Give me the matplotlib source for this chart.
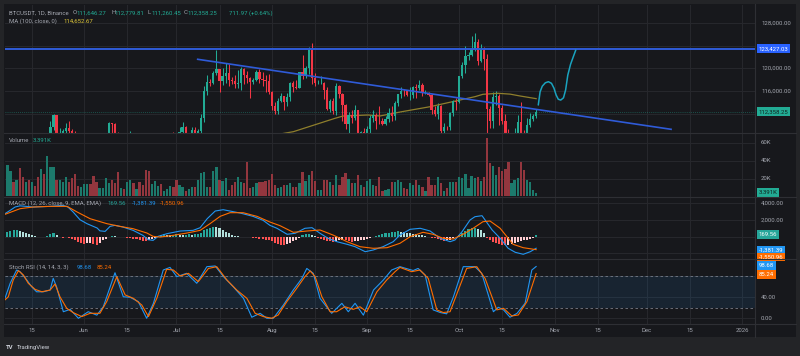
import numpy as np
import pandas as pd
import matplotlib
matplotlib.use('Agg')
import matplotlib.pyplot as plt
import matplotlib.dates as mdates
from matplotlib.lines import Line2D

plt.rcParams['font.family'] = ['Roboto', 'DejaVu Sans']

# ---------------- data ----------------
start_date = '2025-05-06'
opens = [94748, 96802, 97032, 103241, 102971, 104696, 104106, 102812, 104169, 103539, 103744, 103489, 103126, 106455, 105606, 106791, 109643, 111696, 107287, 107791, 109035, 109440, 108994, 107802, 105641, 103998,
         104638, 105652, 105882, 105432, 104697, 101508, 104288, 105615, 105793, 110294, 110257, 108686, 105929, 106090, 105472, 105552, 106794, 104551, 104886, 104658, 103297, 102120, 100963, 105333, 106083, 107340, 106947, 107047, 107296, 108356,
         107135, 105681, 108849, 109584, 107985, 108222, 109203, 108263, 108922, 111234, 115987, 117516, 117435, 119087, 119841, 117758, 118631, 119177, 117925, 117840, 117265, 117380, 119954, 118755, 118340, 117614, 117919, 119415, 118062, 117922, 117832,
         115764, 113297, 112546, 114208, 115055, 114129, 114992, 117472, 116675, 116462, 119294, 118686, 120134, 123306, 118295, 117342, 117380, 117405, 116227, 112872, 114271, 112500, 116935, 115438, 113493, 110111, 111764, 111262, 112567, 108377, 108816,
         108246, 109237, 111240, 111705, 110730, 110659, 110187, 111137, 112065, 111546, 113960, 115482, 116030, 115919, 115268, 115349, 116788, 116447, 117073, 115632, 115685, 115232, 112650, 111998, 113307, 108994, 109643, 109635, 112163, 114311,
         114048, 118595, 120530, 122232, 122391, 123482, 124658, 121332, 123306, 121662, 112774, 110644, 114958, 115166, 113029, 110763, 108195, 106432, 107185, 108642, 110532, 108297, 107567, 110078, 111033, 111646.27]
highs = [96889, 97732, 103971, 104324, 104984, 104937, 105819, 104976, 104324, 104150, 104550, 103717, 106660, 107108, 107320, 110797, 111980, 111800, 109454, 109300, 110422, 110718, 109313, 108910, 106300, 104886,
         105900, 105950, 106800, 105999, 105900, 105500, 105900, 106488, 110530, 110400, 110392, 108800, 106182, 106200, 106128, 108952, 107771, 105550, 105226, 106524, 104000, 103100, 106074, 106290, 108135, 108272, 107735, 107600, 108528, 108789,
         107540, 109730, 110529, 109767, 108420, 109700, 109700, 109216, 111999, 116868, 118869, 118200, 119488, 123218, 119940, 120063, 120998, 120820, 118499, 118856, 119676, 120247, 120090, 119535, 118451, 118300, 119766, 119800, 119273, 118792, 118922,
         116052, 114036, 114700, 115720, 115127, 115720, 117630, 117700, 117900, 119311, 122335, 120324, 123667, 124474, 119216, 117999, 118575, 117543, 116725, 114616, 114821, 117429, 117000, 115666, 113644, 112383, 112625, 113485, 112651, 108956, 109480,
         109912, 111771, 112578, 112206, 113384, 111307, 111600, 112924, 113293, 114313, 115488, 116665, 116308, 116165, 116781, 116964, 117286, 117900, 117459, 116124, 115873, 115400, 113288, 113940, 113510, 110300, 109766, 112350, 114400, 114792,
         118649, 121022, 123894, 122800, 125708, 126199, 125126, 124197, 123762, 122550, 113322, 115770, 115963, 115409, 113612, 111982, 109240, 107499, 109450, 111705, 114000, 109136, 111293, 112100, 111943, 112779.81]
lows = [93377, 95800, 96910, 102315, 102818, 103337, 100718, 101429, 102600, 101383, 103100, 102612, 102400, 102000, 104190, 106107, 109177, 106800, 106900, 106600, 108670, 107522, 106681, 105322, 103700, 103068,
        103700, 103700, 104900, 104200, 100372, 101100, 103900, 104965, 105318, 108345, 108500, 105671, 102664, 104300, 104494, 104979, 103371, 103500, 103900, 102345, 100837, 98200, 99613, 104622, 105808, 106591, 106356, 106805, 107209, 106733,
        105250, 105100, 108530, 107245, 107800, 107800, 107513, 107429, 108324, 110500, 115222, 116900, 117224, 118905, 115736, 117017, 117453, 116812, 117277, 116467, 116515, 116128, 117301, 117401, 114723, 117161, 117825, 117427, 116950, 115796, 115500,
        112722, 112000, 111920, 114110, 112650, 113354, 114259, 115878, 116300, 116460, 118050, 118207, 118920, 117180, 116803, 117172, 117172, 114640, 112732, 112380, 112015, 111684, 114723, 110680, 109274, 108666, 110345, 110861, 107463, 107350, 108076,
        107255, 108393, 110500, 109329, 110206, 110016, 110000, 110621, 110766, 110917, 113430, 114783, 115169, 115134, 114384, 114737, 114720, 116092, 115100, 115417, 115188, 112000, 111512, 111064, 108631, 108620, 109041, 109200, 111560, 112656,
        113971, 118283, 119249, 121526, 122100, 123084, 120574, 121066, 119651, 102000, 109561, 109565, 113616, 110023, 110164, 107427, 103528, 106322, 106103, 107402, 107473, 106666, 107500, 109700, 110681, 111260.45]
closes = opens[1:] + [112358.25]

# volume (thousands of BTC)
volume_k = [17.6, 35.6, 28.4, 16.5, 18.4, 31.8, 22.1, 16.5, 18.4, 16.5, 11.6, 22.1, 30.7, 24.7, 45.7, 32.6, 32.6, 18.4, 18.4, 16.5,
            22.1, 16.5, 20.2, 24.7, 11.6, 10.9, 13.8, 13.8, 13.8, 23.2, 16.5, 9.0, 9.0, 20.2, 14.6, 18.4, 14.6, 26.9, 9.7, 7.9,
            16.5, 18.4, 14.6, 7.9, 16.5, 12.7, 29.6, 28.4, 13.8, 17.6, 11.6, 13.8, 5.4, 7.9, 11.6, 10.9, 18.4, 12.7, 10.9, 5.4,
            7.9, 10.9, 10.1, 18.4, 25.8, 26.9, 10.1, 10.9, 28.4, 32.6,
            18.4, 17.6, 20.2, 7.2, 12.7, 16.5, 21.4, 16.5, 15.4, 38.9, 9.0, 10.9, 15.4, 16.5, 16.5, 17.6, 18.4, 25.1, 12.7, 9.0,
            10.9, 12.7, 12.7, 14.6, 10.9, 10.9, 14.6, 27.7, 17.6, 23.9, 28.4, 17.2, 7.2, 7.2, 18.4, 18.4, 16.5, 12.7, 23.9, 12.7,
            22.1, 25.8, 19.1, 14.6, 14.6, 23.9, 12.7, 10.9, 17.6, 19.1, 12.7, 11.6, 22.1, 5.4, 7.2, 7.9, 16.5, 16.5, 18.4,
            16.5, 9.0, 7.9, 14.6, 12.7, 18.4, 12.7, 10.1, 6.0, 22.1, 12.7, 12.7, 22.1, 14.6, 6.0, 9.0, 16.5, 16.5, 16.5, 22.1,
            20.2, 25.1, 9.0, 22.9, 21.0, 22.1, 17.6, 22.1,
            65.0, 37.4, 33.7, 23.9, 32.9, 28.0, 30.4, 38.2, 14.6, 18.4, 20.2, 38.2, 29.6, 18.4, 16.5, 7.2, 3.391]

macd_hist = [400, 550, 650, 750, 760, 700, 600, 450, 300, 180, 60,
             -30, -50, -20, 50,
             300, 400, 250,
             -50, -100, -80,
             -150, -300, -450, -600, -750, -850, -800, -750, -900, -950, -700, -450, -250, -80,
             50, 40, 20, -30,
             -80, -130, -180, -250, -320, -400, -480, -550,
             -450, -300, -100,
             100, 200, 300, 250, 200, 250, 300, 250, 200, 250, 300, 250, 300, 350,
             500, 750, 950, 1100, 1200, 1150, 1000, 800, 600, 400, 250, 100,
             50, 0, -30, 20, -20,
             -100, -180, -250, -300, -350, -400, -550, -700, -850, -950, -1000, -900, -750, -550, -350, -150,
             150, 300, 350, 250, 100,
             -100, -250, -400, -500, -550, -600, -550, -450, -400, -450, -550, -600, -550, -500, -450, -350, -250, -150, -50,
             100, 200, 300, 400, 500, 550, 600, 650,
             600, 550, 500, 450, 380, 300, 220, 150, 80, 0,
             -100, -200, -300, -400, -500, -450, -350, -200, -80,
             200, 450, 700, 900, 1050, 1100, 950, 750, 500,
             -150, -400, -600, -800, -900, -1000, -1050, -950, -850, -750, -650, -550, -450, -350, -250, -100,
             169.56]

# line indicators: (day index from start, value)
macd_day = [0.2, 1.9, 3.5, 5.1, 9.3, 14.9, 19.1, 20.7, 22.4, 24.6, 26.9, 30.2, 31.1, 32.8, 34.4, 36.0, 38.6, 41.9, 45.1, 46.8,
            48.4, 50.0, 52.9, 57.2, 61.4, 63.7, 66.0, 68.6, 71.2, 73.4, 76.7, 80.9, 84.2, 86.4,
            88.7, 92.0, 94.6, 97.8, 100.1, 102.7, 105.3, 108.2, 111.5, 114.1, 117.4, 120.0,
            123.2, 126.5, 128.7, 132.0, 135.3, 138.5, 141.8, 145.0, 146.6, 148.9, 151.5, 153.1, 155.4, 156.4, 158.7, 161.3, 163.9,
            166.2, 168.8, 171.1, 173.0]
macd_val = [2755, 3155, 3555, 3700, 3555, 3635, 3755, 3555, 2955, 2037, 1557, 1038, 700, 639, 1238, 1358, 1158, 758, 160, -359,
            -439, 40, 360, 679, 758, 1078, 2157, 3075, 3235, 3075, 2835, 2436, 1957, 1358,
            1006, 287, 407, 1006, 1078, 407, -192, -599, -910, -1198, -1797, -1593,
            -1198, -599, 200, 886, 1006, 683, -192, -599, -395, 599, 2000, 2396, 2516, 2000, 803, -192, -1390,
            -1869, -2108, -1797, -1381.39]
signal_day = [0.2, 5.1, 9.3, 14.9, 20.4, 23.7, 27.9, 33.4, 37.6, 41.9, 46.4, 48.4, 50.7, 54.9, 59.4, 63.7, 66.9, 70.2, 73.4,
              77.7, 82.2, 86.4, 89.7,
              94.0, 98.5, 102.7, 106.9, 111.5, 115.7, 120.0, 124.5, 128.7, 132.0, 136.2, 139.5, 142.7, 146.0, 149.2, 152.5,
              155.7, 158.0, 161.3, 163.5, 165.5, 168.8, 173.0]
signal_val = [2675, 3355, 3555, 3635, 3635, 2955, 2157, 1557, 1238, 958, 439, 40, -40, 160, 439, 758, 1557, 2436, 2875,
              2875, 2436, 1757, 1318,
              527, 683, 803, 204, -599, -1198, -1390, -1318, -791, 0, 527, 287, -192, -275, 287, 1006,
              1797, 1880, 1006, 0, -910, -1318, -1550.96]

stoch_k_day = [0.2, 1.9, 4.0, 5.1, 7.3, 8.9, 10.5, 12.7, 14.9, 15.9, 17.0, 19.2, 21.4, 24.1, 27.3, 30.1, 32.2, 36.0, 38.7, 40.9,
               43.6, 46.3, 48.5, 51.7, 53.9, 56.1, 59.3, 62.6, 65.9, 68.6, 71.3, 74.5, 77.8, 80.5, 83.2, 85.4, 87.5, 90.8, 94.0,
               96.8, 98.4, 100.5, 102.7, 106.5, 109.8, 111.9, 114.1, 116.8, 120.1, 123.3, 126.0, 128.7, 133.0, 134.6, 136.9,
               139.5, 141.8, 143.9, 146.1, 149.3, 153.1, 155.3, 159.1, 160.7, 162.4, 164.5, 166.8, 169.4, 171.6, 173.0]
stoch_k = [38, 66.7, 92, 88.8, 73, 60, 50.5, 50.5, 53.9, 76, 60, 12.5, 17, 0, 12.5, 6, 22, 86.8, 41, 40,
           31.7, 0, 28.5, 92, 97, 79.4, 85.7, 66.7, 98.4, 99.7, 79.4, 60, 38, 2, 9.5, 0, 0, 25.4, 53.9,
           76, 95, 85.7, 38, 9.5, 28.5, 12.5, 28.5, 6, 53.9, 73, 92, 98.4, 91, 95, 82.5,
           16, 11, 8.5, 41, 98.4, 98.4, 85.7, 12.5, 21, 16, 2, 9.5, 28.5, 92, 98.68]
stoch_d_day = [0.2, 1.3, 2.9, 4.6, 6.2, 7.8, 10.0, 12.2, 14.9, 16.5, 18.1, 20.3, 22.4, 25.2, 27.9, 31.1, 33.3, 36.6, 39.3, 42.0,
               44.7, 46.9, 49.6, 52.8, 55.0, 57.2, 59.9, 63.1, 66.4, 69.1, 72.4, 75.6, 78.9, 81.6, 84.3, 87.0, 89.1, 91.9, 95.1,
               97.8, 99.5, 101.1, 103.3, 106.0, 108.1, 110.8, 113.5, 115.7, 117.9, 121.2, 124.4, 127.1, 128.7, 132.5, 135.2, 137.9,
               140.7, 142.8, 145.0, 147.7, 150.4, 153.7, 156.4, 160.2, 162.4, 165.1, 167.2, 170.0, 173.0]
stoch_d = [35, 41, 73, 90.8, 82.5, 66.7, 55.2, 50.5, 53.9, 65.3, 41, 19, 10.8, 3.2, 9.5, 9.5, 31.7, 79.4, 44.5, 38,
           25.4, 3.2, 38, 93.3, 92, 80.6, 85.7, 69.8, 95, 98.4, 73, 53.9, 38, 9.5, 3.2, 0, 6.3, 31.7, 57, 79.4,
           90.2, 79.4, 41, 12.5, 12.5, 22, 17, 22, 12.5, 50.5, 73, 88.8, 97, 88.8, 92, 76, 16, 11, 12.5, 53.9,
           95, 98.4, 76, 16, 19, 4.4, 6.3, 31.7, 85.24]

ma_day = [80, 94.0, 107.6, 110.2, 118.3, 122.2, 129.3, 138.5, 147.2, 153.1, 155.7, 160.6, 164.5, 167.8, 173.0]
ma_val = [107500, 108828, 111190, 111595, 111771, 111600, 112352, 113233, 114290, 115000, 115418, 115594, 115450, 115119, 114652.67]

# drawings (day index, price)
trend_day = [62.9, 216.9]
trend_price = [121586, 109251]
hline_price = 123427.03
sketch_day = [173.7, 174.3, 175.0, 176.0, 177.0, 178.0, 178.8, 179.5, 180.2, 181.0, 181.9, 182.6, 183.3, 184.2, 185.0, 185.9]
sketch_price = [113533, 115876, 116850, 117450, 117638, 117350, 116500, 115300, 114550, 114400, 114800, 116200, 118800, 120700, 121900, 123223]

tick_dates = ['2025-05-15', '2025-06-01', '2025-06-15', '2025-07-01', '2025-07-15', '2025-08-01', '2025-08-15', '2025-09-01',
              '2025-09-15', '2025-10-01', '2025-10-15', '2025-11-01', '2025-11-15', '2025-12-01', '2025-12-15', '2026-01-01']
tick_labels = ['15', 'Jun', '15', 'Jul', '15', 'Aug', '15', 'Sep', '15', 'Oct', '15', 'Nov', '15', 'Dec', '15', '2026']

price_ticks = [112000, 116000, 120000, 124000, 128000]
price_tick_labels = [120000, 116000, 128000]
vol_ticks = [20000, 40000, 60000]
macd_ticks = [-2000, 0, 2000, 4000]
stoch_ticks = [0, 40, 80]

# ---------------- style ----------------
W, H = 800, 356
BG = '#17181c'
OUTER = '#232427'
GRID = '#26272c'
SEP = '#2e2f34'
TXT = '#a4a7b0'
UP = '#22ab94'
DN = '#f23645'
BLUE = '#2196f3'
ORANGE = '#ff6d00'
FS = 4.3

fig = plt.figure(figsize=(W / 100, H / 100), dpi=100)
fig.patch.set_facecolor(OUTER)

def px_axes(l, t, r, b, z=1):
    ax = fig.add_axes([l / W, 1 - b / H, (r - l) / W, (b - t) / H], zorder=z)
    for s in ax.spines.values():
        s.set_visible(False)
    ax.set_xticks([])
    ax.set_yticks([])
    return ax

bg_ax = px_axes(4, 4, 796, 337, z=0)
bg_ax.set_facecolor(BG)

L, R = 5, 755
ax_p = px_axes(L, 5, R, 133)
ax_v = px_axes(L, 133, R, 197)
ax_m = px_axes(L, 197, R, 259)
ax_s = px_axes(L, 259, R, 324)
panes = [ax_p, ax_v, ax_m, ax_s]

dates = pd.date_range(start_date, periods=len(opens), freq='D')
xs = mdates.date2num(dates)
x_start = xs[0]
ref = mdates.date2num(pd.Timestamp('2025-05-15'))
xlim = (ref - 8.78, ref + 235.2)
tick_x = mdates.date2num(pd.to_datetime(tick_dates))

for ax in panes:
    ax.set_facecolor('none')
    ax.set_xlim(*xlim)
    for tx in tick_x:
        ax.axvline(tx, color=GRID, lw=0.8, zorder=0)

ax_p.set_ylim(108599, 131154)
ax_v.set_ylim(-787, 71150)
ax_m.set_ylim(-2672, 4756)
ax_s.set_ylim(-10.9, 113)

for ax, ticks in [(ax_p, price_ticks), (ax_v, vol_ticks), (ax_m, macd_ticks), (ax_s, stoch_ticks)]:
    for t in ticks:
        ax.axhline(t, color=GRID, lw=0.8, zorder=0)

# separators
def fig_line(x0, y0, x1, y1, c=SEP, lw=0.8):
    fig.add_artist(Line2D([x0 / W, x1 / W], [1 - y0 / H, 1 - y1 / H], color=c, lw=lw, zorder=5))

for yy in [133, 197, 259, 324]:
    fig_line(4, yy, 796, yy)
fig_line(R, 4, R, 337)

# ---------------- price pane ----------------
o = np.array(opens); h = np.array(highs); l = np.array(lows); c = np.array(closes)
up = c >= o
cols = np.where(up, UP, DN)
ax_p.vlines(xs, l, h, colors=cols, lw=0.75, zorder=3)
body_lo = np.minimum(o, c)
body_h = np.maximum(np.abs(c - o), 60)
ax_p.bar(xs, body_h, bottom=body_lo, width=0.74, color=cols, zorder=4, linewidth=0)

ax_p.plot(x_start + np.array(ma_day), ma_val, color='#8f7f2c', lw=0.9, zorder=3)
ax_p.axhline(hline_price, color='#2f5bd8', lw=1.4, zorder=4)
ax_p.plot(x_start + np.array(trend_day), trend_price, color='#2f5bd8', lw=1.2, zorder=4)
ax_p.plot(x_start + np.array(sketch_day), sketch_price, color='#1aa3bf', lw=1.1, zorder=4,
          solid_capstyle='round', solid_joinstyle='round')
ax_p.axhline(closes[-1], color=UP, lw=0.6, ls=(0, (1, 1.5)), alpha=0.5, zorder=2)

# ---------------- volume ----------------
vol = np.array(volume_k) * 1000
vcols = np.where(up, '#1c7a6c', '#93363e')
ax_v.bar(xs, vol, width=0.74, color=vcols, linewidth=0, zorder=3)

# ---------------- MACD ----------------
hist = np.array(macd_hist, dtype=float)
prev = np.concatenate([[hist[0]], hist[:-1]])
hcols = []
for hv, pv in zip(hist, prev):
    if hv >= 0:
        hcols.append('#26a69a' if hv >= pv else '#b2dfdb')
    else:
        hcols.append('#ff5252' if hv < pv else '#ffcdd2')
ax_m.bar(xs, hist, width=0.66, color=hcols, linewidth=0, zorder=3)
ax_m.plot(x_start + np.array(macd_day), macd_val, color=BLUE, lw=0.8, zorder=4)
ax_m.plot(x_start + np.array(signal_day), signal_val, color=ORANGE, lw=0.8, zorder=4)

# ---------------- Stoch RSI ----------------
ax_s.axhspan(20, 80, color='#2196f3', alpha=0.1, lw=0, zorder=1)
for lv in (20, 80):
    ax_s.axhline(lv, color='#787b86', lw=0.6, ls=(0, (3, 3)), zorder=2)
ax_s.plot(x_start + np.array(stoch_k_day), stoch_k, color=BLUE, lw=0.8, zorder=4)
ax_s.plot(x_start + np.array(stoch_d_day), stoch_d, color=ORANGE, lw=0.8, zorder=4)

# ---------------- time axis ----------------
for tx, lab in zip(tick_x, tick_labels):
    ax_s.text(tx, -0.095, lab, transform=ax_s.get_xaxis_transform(), ha='center', va='center',
              color=TXT, fontsize=FS, clip_on=False)

# ---------------- right scale ----------------
def scale_text(ax, y, s):
    ax.text(1 + 6 / 750, y, s, transform=ax.get_yaxis_transform(), ha='left', va='center',
            color=TXT, fontsize=FS, clip_on=False, zorder=6)

def scale_box(ax, y, s, fc, tc):
    ax.text(1 + 3.5 / 750, y, s, transform=ax.get_yaxis_transform(), ha='left', va='center',
            color=tc, fontsize=FS, clip_on=False, zorder=7,
            bbox=dict(boxstyle='square,pad=0.32', fc=fc, ec='none'))

for t in price_tick_labels:
    scale_text(ax_p, t, f'{t:,.2f}')
scale_box(ax_p, hline_price, f'{hline_price:,.2f}', '#2962ff', 'white')
scale_box(ax_p, closes[-1], f'{closes[-1]:,.2f}', '#22ab94', '#10221e')
for t in vol_ticks:
    scale_text(ax_v, t, f'{t // 1000}K')
scale_box(ax_v, volume_k[-1] * 1000 + 600, f'{volume_k[-1]:.3f}K', '#22ab94', '#10221e')
for t in [2000, 4000]:
    scale_text(ax_m, t, f'{t:,.2f}')
scale_box(ax_m, macd_hist[-1] + 120, f'{macd_hist[-1]:.2f}', '#26a69a', 'white')
scale_box(ax_m, macd_val[-1] - 230, f'{macd_val[-1]:,.2f}', BLUE, 'white')
scale_box(ax_m, signal_val[-1] - 880, f'{signal_val[-1]:,.2f}', ORANGE, 'white')
for t in [0, 40]:
    scale_text(ax_s, t, f'{t:.2f}')
scale_box(ax_s, stoch_k[-1] + 2, f'{stoch_k[-1]:.2f}', BLUE, 'white')
scale_box(ax_s, stoch_d[-1] - 1.5, f'{stoch_d[-1]:.2f}', ORANGE, 'white')

# ---------------- legends ----------------
def ftext(px, py, s, color=TXT, **kw):
    fig.text(px / W, 1 - py / H, s, color=color, fontsize=FS, ha='left', va='center', zorder=10, **kw)

GR = '#22ab94'
ftext(9, 12.7, 'BTCUSDT, 1D, Binance')
for px, lab, val in [(73, 'O', '111,646.27'), (111, 'H', '112,779.81'), (148, 'L', '111,260.45'), (184, 'C', '112,358.25')]:
    ftext(px, 12.7, lab)
    ftext(px + 3.6, 12.7, val, GR)
ftext(229, 12.7, '711.97 (+0.64%)', GR)
ftext(9, 21.5, 'MA (100, close, 0)')
ftext(63, 21.5, f'{ma_val[-1]:,.2f}', '#e0c93b')
ftext(9, 140, 'Volume')
ftext(33, 140, f'{volume_k[-1]:.3f}K', GR)
ftext(9, 203.5, 'MACD (12, 26, close, 9, EMA, EMA)')
ftext(107, 203.5, f'{macd_hist[-1]:.2f}', '#26a69a')
ftext(132, 203.5, f'{macd_val[-1]:,.2f}', BLUE)
ftext(160, 203.5, f'{signal_val[-1]:,.2f}', ORANGE)
ftext(9, 267.5, 'Stoch RSI (14, 14, 3, 3)')
ftext(77, 267.5, f'{stoch_k[-1]:.2f}', BLUE)
ftext(97, 267.5, f'{stoch_d[-1]:.2f}', ORANGE)

ftext(6, 347.5, 'TV', '#d1d4dc', fontweight='bold')
ftext(17, 347.5, 'TradingView', '#d1d4dc')

fig.savefig('out.png', dpi=100, facecolor=fig.get_facecolor())
